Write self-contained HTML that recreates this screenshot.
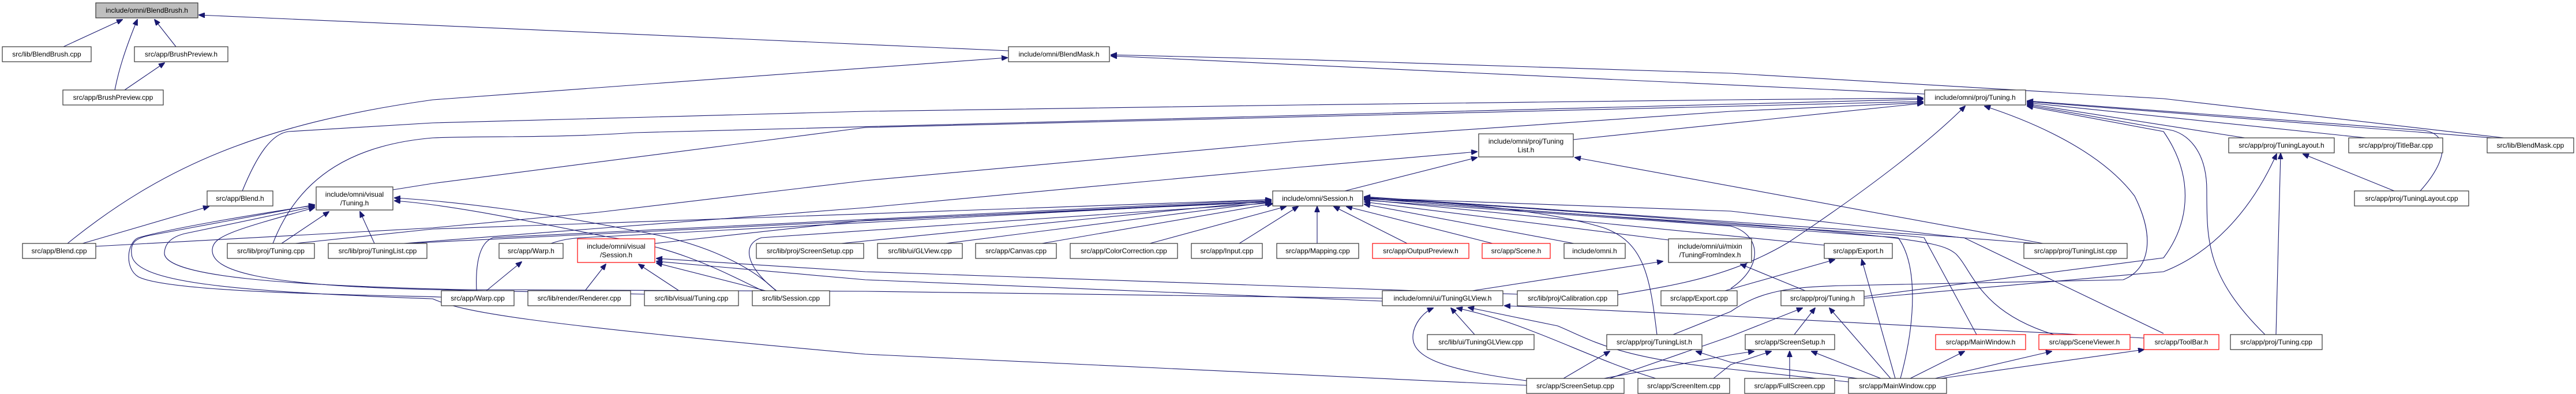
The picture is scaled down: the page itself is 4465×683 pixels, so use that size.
<!DOCTYPE html>
<html><head><meta charset="utf-8"><style>
html,body{margin:0;padding:0;background:#fff;}
svg{display:block;}
text{font-family:"Liberation Sans",Arial,sans-serif;font-size:12px;fill:#000;}
.e{fill:none;stroke:#191970;stroke-width:1.1;marker-end:url(#a);}
.n{fill:#fff;stroke:#333;stroke-width:1.2;}
.r{fill:#fff;stroke:#ff0000;stroke-width:1.2;}
.g{fill:#bfbfbf;stroke:#333;stroke-width:1.2;}
</style></head><body>
<svg width="4465" height="683" viewBox="0 0 4465 683" xmlns="http://www.w3.org/2000/svg">
<defs><marker id="a" markerWidth="11" markerHeight="9" refX="10" refY="4.5" orient="auto" markerUnits="userSpaceOnUse"><path d="M0,0 L11,4.5 L0,9 z" fill="#191970" stroke="#191970"/></marker></defs>
<g>
<path class="e" d="M110,81 L212,34"/>
<path class="e" d="M305,81 L268,34"/>
<path class="e" d="M199,156 C205,125 215,90 238,34"/>
<path class="e" d="M216,156 L285,109"/>
<path class="e" d="M1748,88 L345,26"/>
<path class="e" d="M117,422 C280,290 450,215 750,173 L1746,100"/>
<path class="e" d="M3336,163 L1926,97"/>
<path class="e" d="M4340,239 L3750,171 L3000,127 L2250,103 L1926,95"/>
<path class="e" d="M4320,239 L3514,176"/>
<path class="e" d="M4101,239 L3514,178"/>
<path class="e" d="M3891,239 L3514,180"/>
<path class="e" d="M4195,331 C4250,270 4240,230 4200,226 L3514,175"/>
<path class="e" d="M3926,580 C3825,480 3825,420 3825,330 C3825,260 3790,230 3760,225 L3514,182"/>
<path class="e" d="M3945,580 L3953,266"/>
<path class="e" d="M4150,331 L3992,267"/>
<path class="e" d="M3231,517 L3750,471 C3830,440 3900,370 3946,267"/>
<path class="e" d="M3231,514 L3750,447 C3800,380 3800,300 3750,228 L3514,184"/>
<path class="e" d="M2900,580 L3000,540 C3050,505 3100,497 3200,495 L3680,485 C3720,470 3740,420 3700,340 C3640,260 3520,210 3440,184"/>
<path class="e" d="M2804,511 C2900,495 3000,480 3100,420 C3250,320 3350,240 3406,184"/>
<path class="e" d="M420,331 C445,270 470,232 500,228 L750,213 L1500,193 L2250,182 L3000,173 L3333,170"/>
<path class="e" d="M473,422 C520,300 620,250 750,239 C850,235 950,240 1100,230 L3333,172"/>
<path class="e" d="M681,329 L750,318 L1500,221 L3333,176"/>
<path class="e" d="M166,427 L750,395 L1037,368 L1500,313 L2250,245 L3000,193 L3333,178"/>
<path class="e" d="M2727,242 L3333,179"/>
<path class="e" d="M2331,331 L2560,273"/>
<path class="e" d="M700,422 L1500,360 L2250,290 L2560,263"/>
<path class="e" d="M3541,422 L2730,273"/>
<path class="e" d="M3530,422 L3400,412 L3000,366 L2365,343"/>
<path class="e" d="M143,422 L362,358"/>
<path class="e" d="M488,422 L570,367"/>
<path class="e" d="M649,422 L624,367"/>
<path class="e" d="M765,515 C700,512 300,510 240,480 C215,465 220,420 240,412 C300,395 450,370 545,356"/>
<path class="e" d="M2396,517 L1500,505 L800,502 C500,495 290,480 285,440 C285,420 300,410 320,405 L545,358"/>
<path class="e" d="M2646,668 L1500,614 C900,560 800,540 750,518 C400,505 230,490 228,440 C226,420 235,413 260,408 L545,355"/>
<path class="e" d="M1117,510 L750,502 C450,495 365,470 368,432 C370,410 400,400 545,360"/>
<path class="e" d="M1345,504 C1300,460 1220,420 1100,400 C950,370 800,350 684,343"/>
<path class="e" d="M1322,504 C1250,470 1180,430 1050,410 C900,380 780,355 684,348"/>
<path class="e" d="M1014,504 L1050,458"/>
<path class="e" d="M1177,504 L1107,458"/>
<path class="e" d="M1327,504 L1138,456"/>
<path class="e" d="M2630,510 L1500,471 L1138,448"/>
<path class="e" d="M2396,522 L1500,485 L1138,453"/>
<path class="e" d="M1135,422 L1500,382 L2203,350"/>
<path class="e" d="M955,422 C980,413 1000,412 1050,410 L2203,348"/>
<path class="e" d="M843,504 L904,454"/>
<path class="e" d="M826,504 C824,460 830,420 855,412 L2203,346"/>
<path class="e" d="M1458,422 L2203,348"/>
<path class="e" d="M1346,504 C1300,470 1280,425 1320,412 L2203,352"/>
<path class="e" d="M1639,422 L2203,350"/>
<path class="e" d="M1806,422 L2206,353"/>
<path class="e" d="M1993,422 L2229,358"/>
<path class="e" d="M2148,422 L2250,358"/>
<path class="e" d="M2283,422 L2283,358"/>
<path class="e" d="M2439,422 L2312,358"/>
<path class="e" d="M2587,422 L2334,358"/>
<path class="e" d="M2728,422 L2365,354"/>
<path class="e" d="M2892,416 L2365,350"/>
<path class="e" d="M512,422 L750,397 L2203,346"/>
<path class="e" d="M703,422 L2203,348"/>
<path class="e" d="M2872,580 C2860,480 2850,420 2780,395 C2700,370 2550,350 2365,345"/>
<path class="e" d="M3162,425 L2365,346"/>
<path class="e" d="M3426,580 L3335,412 C3300,405 2800,380 2365,343"/>
<path class="e" d="M3560,580 C3430,540 3420,470 3390,440 C3360,415 3300,405 2365,342"/>
<path class="e" d="M3750,578 L3404,412 L2365,341"/>
<path class="e" d="M3000,500 C3060,460 3050,405 3000,392 L2365,347"/>
<path class="e" d="M3294,656 C3320,560 3325,460 3290,412 L2365,344"/>
<path class="e" d="M3129,504 L3017,458"/>
<path class="e" d="M2552,504 L2882,453"/>
<path class="e" d="M2556,580 L2515,534"/>
<path class="e" d="M2646,660 C2500,640 2440,620 2450,575 C2455,555 2470,540 2484,534"/>
<path class="e" d="M2870,656 C2750,620 2650,560 2525,534"/>
<path class="e" d="M3204,662 L3000,640 C2800,620 2760,590 2700,565 L2545,533"/>
<path class="e" d="M3716,586 L3000,548 L2608,530"/>
<path class="e" d="M2990,504 L3180,450"/>
<path class="e" d="M3285,656 L3227,450"/>
<path class="e" d="M3110,580 L3146,534"/>
<path class="e" d="M3277,656 L3171,534"/>
<path class="e" d="M2790,656 L3000,583 L3124,534"/>
<path class="e" d="M2970,656 L3000,632 L3070,609"/>
<path class="e" d="M2780,656 L3000,615 L3040,609"/>
<path class="e" d="M3102,656 L3102,609"/>
<path class="e" d="M3260,656 L3140,609"/>
<path class="e" d="M3311,656 L3405,609"/>
<path class="e" d="M3354,656 L3556,609"/>
<path class="e" d="M3364,656 L3716,606"/>
<path class="e" d="M3220,656 L3000,628 L2940,609"/>
<path class="e" d="M2710,656 L2790,609"/>
</g>
<g>
<rect class="g" x="166" y="5" width="177" height="26"/><text x="254.5" y="22" text-anchor="middle">include/omni/BlendBrush.h</text>
<rect class="n" x="4" y="81" width="154" height="26"/><text x="81" y="98" text-anchor="middle">src/lib/BlendBrush.cpp</text>
<rect class="n" x="233" y="81" width="162" height="26"/><text x="314" y="98" text-anchor="middle">src/app/BrushPreview.h</text>
<rect class="n" x="109" y="156" width="174" height="26"/><text x="196" y="173" text-anchor="middle">src/app/BrushPreview.cpp</text>
<rect class="n" x="1748" y="81" width="175" height="26"/><text x="1835.5" y="98" text-anchor="middle">include/omni/BlendMask.h</text>
<rect class="n" x="3336" y="156" width="175" height="26"/><text x="3423.5" y="173" text-anchor="middle">include/omni/proj/Tuning.h</text>
<rect class="n" x="2563" y="232" width="164" height="40"/><text x="2645" y="249" text-anchor="middle">include/omni/proj/Tuning</text><text x="2645" y="264" text-anchor="middle">List.h</text>
<rect class="n" x="3863" y="239" width="183" height="26"/><text x="3954.5" y="256" text-anchor="middle">src/app/proj/TuningLayout.h</text>
<rect class="n" x="4071" y="239" width="163" height="26"/><text x="4152.5" y="256" text-anchor="middle">src/app/proj/TitleBar.cpp</text>
<rect class="n" x="4311" y="239" width="150" height="26"/><text x="4386" y="256" text-anchor="middle">src/lib/BlendMask.cpp</text>
<rect class="n" x="359" y="331" width="114" height="26"/><text x="416" y="348" text-anchor="middle">src/app/Blend.h</text>
<rect class="n" x="548" y="324" width="133" height="40"/><text x="614.5" y="341" text-anchor="middle">include/omni/visual</text><text x="614.5" y="356" text-anchor="middle">/Tuning.h</text>
<rect class="n" x="2206" y="331" width="156" height="26"/><text x="2284" y="348" text-anchor="middle">include/omni/Session.h</text>
<rect class="n" x="4081" y="331" width="198" height="26"/><text x="4180" y="348" text-anchor="middle">src/app/proj/TuningLayout.cpp</text>
<rect class="n" x="39" y="422" width="127" height="26"/><text x="102.5" y="439" text-anchor="middle">src/app/Blend.cpp</text>
<rect class="n" x="394" y="422" width="151" height="26"/><text x="469.5" y="439" text-anchor="middle">src/lib/proj/Tuning.cpp</text>
<rect class="n" x="569" y="422" width="171" height="26"/><text x="654.5" y="439" text-anchor="middle">src/lib/proj/TuningList.cpp</text>
<rect class="n" x="865" y="422" width="111" height="26"/><text x="920.5" y="439" text-anchor="middle">src/app/Warp.h</text>
<rect class="r" x="1001" y="414" width="134" height="41"/><text x="1068" y="431" text-anchor="middle">include/omni/visual</text><text x="1068" y="446" text-anchor="middle">/Session.h</text>
<rect class="n" x="1311" y="422" width="186" height="26"/><text x="1404" y="439" text-anchor="middle">src/lib/proj/ScreenSetup.cpp</text>
<rect class="n" x="1521" y="422" width="147" height="26"/><text x="1594.5" y="439" text-anchor="middle">src/lib/ui/GLView.cpp</text>
<rect class="n" x="1691" y="422" width="140" height="26"/><text x="1761" y="439" text-anchor="middle">src/app/Canvas.cpp</text>
<rect class="n" x="1855" y="422" width="186" height="26"/><text x="1948" y="439" text-anchor="middle">src/app/ColorCorrection.cpp</text>
<rect class="n" x="2065" y="422" width="123" height="26"/><text x="2126.5" y="439" text-anchor="middle">src/app/Input.cpp</text>
<rect class="n" x="2213" y="422" width="142" height="26"/><text x="2284" y="439" text-anchor="middle">src/app/Mapping.cpp</text>
<rect class="r" x="2379" y="422" width="167" height="26"/><text x="2462.5" y="439" text-anchor="middle">src/app/OutputPreview.h</text>
<rect class="r" x="2569" y="422" width="118" height="26"/><text x="2628" y="439" text-anchor="middle">src/app/Scene.h</text>
<rect class="n" x="2711" y="422" width="106" height="26"/><text x="2764" y="439" text-anchor="middle">include/omni.h</text>
<rect class="n" x="2892" y="414" width="144" height="41"/><text x="2964" y="431" text-anchor="middle">include/omni/ui/mixin</text><text x="2964" y="446" text-anchor="middle">/TuningFromIndex.h</text>
<rect class="n" x="3162" y="422" width="118" height="26"/><text x="3221" y="439" text-anchor="middle">src/app/Export.h</text>
<rect class="n" x="3508" y="422" width="179" height="26"/><text x="3597.5" y="439" text-anchor="middle">src/app/proj/TuningList.cpp</text>
<rect class="n" x="765" y="504" width="126" height="26"/><text x="828" y="521" text-anchor="middle">src/app/Warp.cpp</text>
<rect class="n" x="915" y="504" width="178" height="26"/><text x="1004" y="521" text-anchor="middle">src/lib/render/Renderer.cpp</text>
<rect class="n" x="1117" y="504" width="163" height="26"/><text x="1198.5" y="521" text-anchor="middle">src/lib/visual/Tuning.cpp</text>
<rect class="n" x="1304" y="504" width="134" height="26"/><text x="1371" y="521" text-anchor="middle">src/lib/Session.cpp</text>
<rect class="n" x="2396" y="504" width="209" height="26"/><text x="2500.5" y="521" text-anchor="middle">include/omni/ui/TuningGLView.h</text>
<rect class="n" x="2630" y="504" width="174" height="26"/><text x="2717" y="521" text-anchor="middle">src/lib/proj/Calibration.cpp</text>
<rect class="n" x="2879" y="504" width="132" height="26"/><text x="2945" y="521" text-anchor="middle">src/app/Export.cpp</text>
<rect class="n" x="3087" y="504" width="144" height="26"/><text x="3159" y="521" text-anchor="middle">src/app/proj/Tuning.h</text>
<rect class="n" x="2474" y="580" width="185" height="26"/><text x="2566.5" y="597" text-anchor="middle">src/lib/ui/TuningGLView.cpp</text>
<rect class="n" x="2785" y="580" width="165" height="26"/><text x="2867.5" y="597" text-anchor="middle">src/app/proj/TuningList.h</text>
<rect class="n" x="3025" y="580" width="155" height="26"/><text x="3102.5" y="597" text-anchor="middle">src/app/ScreenSetup.h</text>
<rect class="r" x="3355" y="580" width="156" height="26"/><text x="3433" y="597" text-anchor="middle">src/app/MainWindow.h</text>
<rect class="r" x="3534" y="580" width="158" height="26"/><text x="3613" y="597" text-anchor="middle">src/app/SceneViewer.h</text>
<rect class="r" x="3716" y="580" width="130" height="26"/><text x="3781" y="597" text-anchor="middle">src/app/ToolBar.h</text>
<rect class="n" x="3866" y="580" width="159" height="26"/><text x="3945.5" y="597" text-anchor="middle">src/app/proj/Tuning.cpp</text>
<rect class="n" x="2646" y="656" width="169" height="26"/><text x="2730.5" y="673" text-anchor="middle">src/app/ScreenSetup.cpp</text>
<rect class="n" x="2839" y="656" width="159" height="26"/><text x="2918.5" y="673" text-anchor="middle">src/app/ScreenItem.cpp</text>
<rect class="n" x="3024" y="656" width="156" height="26"/><text x="3102" y="673" text-anchor="middle">src/app/FullScreen.cpp</text>
<rect class="n" x="3204" y="656" width="170" height="26"/><text x="3289" y="673" text-anchor="middle">src/app/MainWindow.cpp</text>
</g>
</svg>
</body></html>
